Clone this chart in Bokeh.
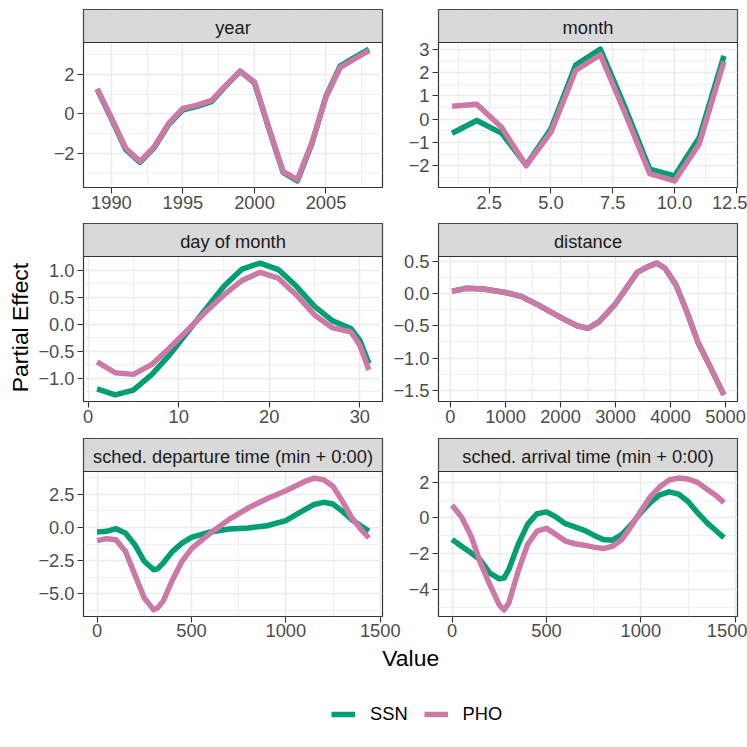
import math
from bokeh.plotting import figure
from bokeh.layouts import row, column
from bokeh.models import Range1d, FixedTicker, Label, Legend, LegendItem, BoxAnnotation
from bokeh.embed import file_html
from bokeh.resources import INLINE

# ---------------- data ----------------
SERIES = ["SSN", "PHO"]
SSN_COLOR = "#009E73"
PHO_COLOR = "#CC79A7"

year_x = [1989, 1990, 1991, 1992, 1993, 1994, 1995, 1996, 1997, 1998,
          1999, 2000, 2001, 2002, 2003, 2004, 2005, 2006, 2007, 2008]
year_ssn = [1.25, -0.25, -1.82, -2.48, -1.72, -0.55, 0.20, 0.38, 0.62, 1.42,
            2.18, 1.58, -0.75, -2.98, -3.42, -1.55, 0.90, 2.45, 2.88, 3.30]
year_pho = [1.28, -0.20, -1.75, -2.42, -1.67, -0.49, 0.27, 0.44, 0.69, 1.45,
            2.16, 1.62, -0.70, -2.93, -3.35, -1.50, 0.86, 2.37, 2.80, 3.22]

month_x = [1, 2, 3, 4, 5, 6, 7, 8, 9, 10, 11, 12]
month_ssn = [-0.61, -0.06, -0.60, -1.97, -0.42, 2.32, 3.00, 0.50, -2.15, -2.44, -0.80, 2.71]
month_pho = [0.55, 0.64, -0.35, -2.00, -0.56, 2.08, 2.76, 0.25, -2.34, -2.65, -1.07, 2.47]

day_x = [1, 3, 5, 7, 9, 11, 13, 15, 17, 19, 21, 23, 25, 27, 29, 30, 31]
day_ssn = [-1.20, -1.31, -1.22, -0.94, -0.57, -0.14, 0.28, 0.70, 1.02, 1.13,
           1.01, 0.70, 0.33, 0.06, -0.08, -0.30, -0.73]
day_pho = [-0.70, -0.90, -0.93, -0.75, -0.44, -0.11, 0.23, 0.54, 0.81, 0.96,
           0.85, 0.54, 0.17, -0.07, -0.14, -0.39, -0.85]

dist_x = [30, 300, 600, 1000, 1300, 1600, 2000, 2300, 2500, 2700, 3000,
          3300, 3400, 3600, 3750, 3900, 4100, 4300, 4500, 4700, 4970]
dist_ssn = [0.036, 0.08, 0.07, 0.015, -0.05, -0.18, -0.37, -0.50, -0.54, -0.44, -0.16,
            0.21, 0.33, 0.42, 0.47, 0.39, 0.13, -0.29, -0.76, -1.10, -1.57]
dist_pho = [0.036, 0.08, 0.07, 0.015, -0.05, -0.18, -0.37, -0.50, -0.54, -0.44, -0.16,
            0.21, 0.33, 0.42, 0.47, 0.39, 0.13, -0.29, -0.76, -1.10, -1.57]

dep_x = [0, 50, 100, 150, 200, 250, 300, 320, 350, 400, 450, 500, 600, 700,
         800, 900, 1000, 1100, 1150, 1200, 1250, 1300, 1350, 1400, 1440]
dep_ssn = [-0.35, -0.30, -0.10, -0.43, -1.30, -2.55, -3.18, -3.12, -2.68, -1.80, -1.18, -0.75, -0.35, -0.12,
           -0.05, 0.12, 0.50, 1.33, 1.72, 1.88, 1.75, 1.20, 0.58, 0.08, -0.28]
dep_pho = [-1.00, -0.85, -0.93, -1.80, -3.55, -5.30, -6.20, -6.05, -5.55, -3.93, -2.55, -1.60, -0.43, 0.60,
           1.45, 2.15, 2.75, 3.45, 3.70, 3.58, 3.08, 1.95, 0.70, -0.18, -0.80]

arr_x = [0, 50, 100, 150, 200, 250, 275, 300, 350, 400, 450, 500, 550, 600, 650, 700,
         750, 800, 850, 900, 950, 1000, 1050, 1100, 1150, 1200, 1250, 1300, 1350, 1400, 1440]
arr_ssn = [-1.20, -1.58, -1.95, -2.35, -3.08, -3.40, -3.36, -2.89, -1.48, -0.36, 0.24, 0.34, 0.06, -0.32, -0.50, -0.69,
           -0.96, -1.20, -1.24, -0.92, -0.36, 0.30, 0.86, 1.29, 1.46, 1.33, 0.92, 0.30, -0.26, -0.73, -1.10]
arr_pho = [0.71, 0.06, -1.00, -2.50, -3.73, -4.86, -5.14, -4.77, -2.98, -1.48, -0.73, -0.58, -0.92, -1.29, -1.44, -1.52,
           -1.63, -1.71, -1.58, -1.20, -0.45, 0.39, 1.18, 1.74, 2.12, 2.23, 2.18, 1.99, 1.61, 1.24, 0.86]

# tick positions / labels
year_xt = [1990, 1995, 2000, 2005]
year_xm = [1987.5, 1992.5, 1997.5, 2002.5, 2007.5]
year_xl = ["1990", "1995", "2000", "2005"]
year_yt = [-2, 0, 2]
year_ym = [-3, -1, 1, 3]
year_yl = ["\u22122", "0", "2"]

month_xt = [2.5, 5.0, 7.5, 10.0, 12.5]
month_xm = [1.25, 3.75, 6.25, 8.75, 11.25]
month_xl = ["2.5", "5.0", "7.5", "10.0", "12.5"]
month_yt = [-2, -1, 0, 1, 2, 3]
month_ym = [-2.5, -1.5, -0.5, 0.5, 1.5, 2.5]
month_yl = ["\u22122", "\u22121", "0", "1", "2", "3"]

day_xt = [0, 10, 20, 30]
day_xm = [5, 15, 25]
day_xl = ["0", "10", "20", "30"]
day_yt = [-1.0, -0.5, 0.0, 0.5, 1.0]
day_ym = [-1.25, -0.75, -0.25, 0.25, 0.75]
day_yl = ["\u22121.0", "\u22120.5", "0.0", "0.5", "1.0"]

dist_xt = [0, 1000, 2000, 3000, 4000, 5000]
dist_xm = [500, 1500, 2500, 3500, 4500]
dist_xl = ["0", "1000", "2000", "3000", "4000", "5000"]
dist_yt = [-1.5, -1.0, -0.5, 0.0, 0.5]
dist_ym = [-1.25, -0.75, -0.25, 0.25]
dist_yl = ["\u22121.5", "\u22121.0", "\u22120.5", "0.0", "0.5"]

time_xt = [0, 500, 1000, 1500]
time_xm = [250, 750, 1250]
time_xl = ["0", "500", "1000", "1500"]
dep_yt = [-5.0, -2.5, 0.0, 2.5]
dep_ym = [-6.25, -3.75, -1.25, 1.25, 3.75]
dep_yl = ["\u22125.0", "\u22122.5", "0.0", "2.5"]
arr_yt = [-4, -2, 0, 2]
arr_ym = [-5, -3, -1, 1]
arr_yl = ["\u22124", "\u22122", "0", "2"]

titles = ["year", "month", "day of month", "distance",
          "sched. departure time (min + 0:00)", "sched. arrival time (min + 0:00)"]

FONT = "Liberation Sans"
SMALL = "18.3px"
BIG = "22.9px"
PANEL_H = 145
STRIP_H = 33


def expand(vals):
    lo, hi = min(vals), max(vals)
    pad = (hi - lo) * 0.05
    return lo - pad, hi + pad


def panel(title, x, ssn, pho, xt, xm, xl, yt, ym, yl, width, mbl, mbr, mbb, top, standoff):
    x0, x1 = expand(x)
    y0, y1 = expand(ssn + pho)
    ext = (y1 - y0) * STRIP_H / PANEL_H
    p = figure(width=width, height=top + STRIP_H + PANEL_H + mbb,
               x_range=Range1d(x0, x1), y_range=Range1d(y0, y1 + ext),
               min_border_left=mbl, min_border_right=mbr,
               min_border_top=top, min_border_bottom=mbb,
               output_backend="svg", toolbar_location=None)
    p.background_fill_color = "white"
    p.border_fill_color = "white"
    p.outline_line_color = "#333333"
    p.outline_line_width = 1.2
    p.xaxis.ticker = FixedTicker(ticks=xt, minor_ticks=xm)
    p.yaxis.ticker = FixedTicker(ticks=yt, minor_ticks=ym)
    p.xaxis.major_label_overrides = dict(zip(xt, xl))
    p.yaxis.major_label_overrides = dict(zip(yt, yl))
    for ax in (p.xaxis, p.yaxis):
        ax.axis_line_color = None
        ax.minor_tick_line_color = None
        ax.major_tick_line_color = "#333333"
        ax.major_tick_line_width = 1.1
        ax.major_tick_in = 0
        ax.major_tick_out = 6
        ax.major_label_text_font = FONT
        ax.major_label_text_font_size = SMALL
        ax.major_label_text_color = "#4D4D4D"
    p.xaxis.major_label_standoff = standoff
    p.yaxis.major_label_standoff = 3
    p.grid.grid_line_color = "#EBEBEB"
    p.grid.grid_line_width = 1.5
    p.grid.minor_grid_line_color = "#EBEBEB"
    p.grid.minor_grid_line_width = 0.75
    p.line(x, ssn, line_color=SSN_COLOR, line_width=5.5, line_join="round")
    p.line(x, pho, line_color=PHO_COLOR, line_width=5.5, line_join="round")
    # facet strip
    p.add_layout(BoxAnnotation(bottom=y1, fill_color="#D9D9D9", fill_alpha=1.0,
                               line_color="#333333", line_width=1.2, line_alpha=1.0))
    p.add_layout(Label(x=(x0 + x1) / 2, y=y1 + ext * 15.1 / STRIP_H, text=title,
                       text_align="center", text_baseline="middle", text_font=FONT,
                       text_font_size=SMALL, text_color="#1A1A1A"))
    return p


r1 = row(panel(titles[0], year_x, year_ssn, year_pho, year_xt, year_xm, year_xl, year_yt, year_ym, year_yl, 354, 49, 6, 36, 9, 2),
         panel(titles[1], month_x, month_ssn, month_pho, month_xt, month_xm, month_xl, month_yt, month_ym, month_yl, 359, 50, 10, 36, 9, 2),
         spacing=0)
r2 = row(panel(titles[2], day_x, day_ssn, day_pho, day_xt, day_xm, day_xl, day_yt, day_ym, day_yl, 354, 49, 6, 37, 0, 2),
         panel(titles[3], dist_x, dist_ssn, dist_pho, dist_xt, dist_xm, dist_xl, dist_yt, dist_ym, dist_yl, 359, 50, 10, 37, 0, 2),
         spacing=0)
r3 = row(panel(titles[4], dep_x, dep_ssn, dep_pho, time_xt, time_xm, time_xl, dep_yt, dep_ym, dep_yl, 370, 49, 22, 28, 0, 1),
         panel(titles[5], arr_x, arr_ssn, arr_pho, time_xt, time_xm, time_xl, arr_yt, arr_ym, arr_yl, 343, 34, 10, 28, 0, 1),
         spacing=0)
grid = column(r1, r2, r3, spacing=0)

MAIN_H = 644
yl_fig = figure(width=34, height=MAIN_H, x_range=Range1d(0, 34), y_range=Range1d(0, MAIN_H),
                x_axis_location=None, y_axis_location=None, min_border=0,
                output_backend="svg", toolbar_location=None)
yl_fig.grid.visible = False
yl_fig.outline_line_color = None
yl_fig.add_layout(Label(x=19.4, y=MAIN_H - 327, text="Partial Effect", angle=math.pi / 2,
                        text_align="center", text_baseline="middle", text_font=FONT,
                        text_font_size=BIG, text_color="black"))

BOT_H = 747 - MAIN_H
bot = figure(width=747, height=BOT_H, x_range=Range1d(0, 747), y_range=Range1d(0, BOT_H),
             x_axis_location=None, y_axis_location=None, min_border=0,
             output_backend="svg", toolbar_location=None)
bot.grid.visible = False
bot.outline_line_color = None
bot.add_layout(Label(x=410.2, y=BOT_H - (657.6 - MAIN_H), text="Value", text_align="center",
                     text_baseline="middle", text_font=FONT, text_font_size=BIG,
                     text_color="black"))
nan = float("nan")
r_ssn = bot.line(x=[nan], y=[nan], line_color=SSN_COLOR, line_width=5.5)
r_pho = bot.line(x=[nan], y=[nan], line_color=PHO_COLOR, line_width=5.5)
legend = Legend(items=[LegendItem(label=SERIES[0], renderers=[r_ssn]),
                       LegendItem(label=SERIES[1], renderers=[r_pho])],
                orientation="horizontal", location=(331, 22), glyph_width=24, glyph_height=20,
                label_standoff=15, spacing=16, padding=0, margin=0, border_line_color=None,
                background_fill_alpha=0, label_text_font=FONT, label_text_font_size=SMALL,
                label_text_color="black", label_height=20)
bot.add_layout(legend)

layout = column(row(yl_fig, grid, spacing=0), bot, spacing=0)

open("out.html", "w").write(file_html(layout, INLINE))
